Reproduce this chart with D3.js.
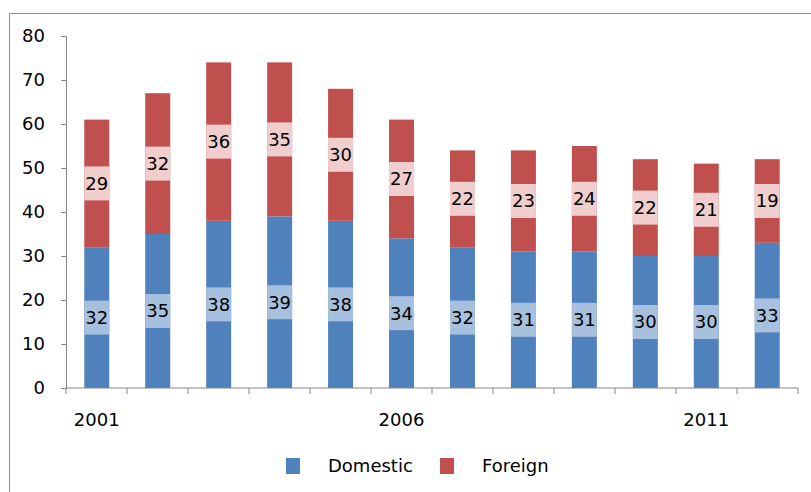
<!DOCTYPE html>
<html>
<head>
<meta charset="utf-8">
<script src="https://cdn.jsdelivr.net/npm/d3@7/dist/d3.min.js"></script>
<style>
  body { margin: 0; background: #fff; }
  text { font-family: "DejaVu Sans", sans-serif; fill: #000; }
</style>
</head>
<body>
<div id="chart"></div>
<script>
var years = ["2001","2002","2003","2004","2005","2006","2007","2008","2009","2010","2011","2012"];
var domestic = [32, 35, 38, 39, 38, 34, 32, 31, 31, 30, 30, 33];
var foreign  = [29, 32, 36, 35, 30, 27, 22, 23, 24, 22, 21, 19];
var yTicks = [0, 10, 20, 30, 40, 50, 60, 70, 80];
var xLabels = ["2001", "2006", "2011"];
var seriesNames = ["Domestic", "Foreign"];

var colors = {Domestic: "#4f81bd", Foreign: "#c0504d"};
var labelBg = {Domestic: "#a7c0de", Foreign: "#f0cecd"};

var W = 811, H = 492;
var margin = {top: 36, left: 66, right: 14, bottom: 104};

var svg = d3.select("#chart").append("svg")
    .attr("width", W)
    .attr("height", H);

// outer chart border (top + left only visible)
svg.append("path")
    .attr("d", "M9.5," + H + "V13.5H" + W)
    .attr("fill", "none")
    .attr("stroke", "#8c8c8c")
    .attr("stroke-width", 1);

var g = svg.append("g")
    .attr("transform", "translate(" + margin.left + "," + margin.top + ")");

var x = d3.scaleBand()
    .domain(years)
    .range([0, 732])
    .paddingInner(0.59)
    .paddingOuter(0.3);

var y = d3.scaleLinear()
    .domain([0, 80])
    .range([352, 0]);

var data = years.map(function(yr, i) {
  return {year: yr, Domestic: domestic[i], Foreign: foreign[i]};
});

var stack = d3.stack().keys(seriesNames);
var series = stack(data);

var serie = g.selectAll(".serie")
  .data(series)
  .enter().append("g")
    .attr("class", "serie");

function pts(d) { return d.map(function(p) { return {key: d.key, p: p}; }); }

serie.selectAll("rect.bar")
  .data(pts)
  .enter().append("rect")
    .attr("class", "bar")
    .attr("x", function(d) { return x(d.p.data.year); })
    .attr("width", x.bandwidth())
    .attr("y", function(d) { return y(d.p[1]); })
    .attr("height", function(d) { return y(d.p[0]) - y(d.p[1]); })
    .attr("fill", function(d) { return colors[d.key]; });

// label boxes
serie.selectAll("rect.lab")
  .data(pts)
  .enter().append("rect")
    .attr("class", "lab")
    .attr("x", function(d) { return x(d.p.data.year); })
    .attr("width", x.bandwidth())
    .attr("y", function(d) { return y((d.p[0] + d.p[1]) / 2) - 17; })
    .attr("height", 34)
    .attr("fill", function(d) { return labelBg[d.key]; });

serie.selectAll("text")
  .data(pts)
  .enter().append("text")
    .attr("x", function(d) { return x(d.p.data.year) + x.bandwidth() / 2; })
    .attr("y", function(d) { return y((d.p[0] + d.p[1]) / 2); })
    .attr("dy", "0.36em")
    .attr("text-anchor", "middle")
    .style("font-size", "18px")
    .text(function(d) { return d.p.data[d.key]; });

// y axis
var yAxis = g.append("g")
    .call(d3.axisLeft(y).tickValues(yTicks).tickSize(5).tickPadding(16));
yAxis.select(".domain").attr("stroke", "#868686");
yAxis.selectAll(".tick line").attr("stroke", "#868686");
yAxis.selectAll(".tick text").style("font-size", "18px").attr("fill", "#000");

// x axis: ticks at band boundaries
var xg = g.append("g")
    .attr("transform", "translate(0," + y(0) + ")");
xg.append("line")
    .attr("x1", 0).attr("x2", 732)
    .attr("stroke", "#868686");
var bounds = d3.range(years.length + 1).map(function(i) { return i * x.step() * 732 / (x.step() * years.length); });
xg.selectAll("line.tk")
  .data(bounds)
  .enter().append("line")
    .attr("class", "tk")
    .attr("x1", function(d) { return d; })
    .attr("x2", function(d) { return d; })
    .attr("y1", 0).attr("y2", 6)
    .attr("stroke", "#868686");
xg.selectAll("text")
  .data(xLabels)
  .enter().append("text")
    .attr("x", function(d) { return x(d) + x.bandwidth() / 2; })
    .attr("y", 38)
    .attr("text-anchor", "middle")
    .style("font-size", "18px")
    .text(function(d) { return d; });

// legend
var legend = svg.append("g");
var legX = [286, 440];
seriesNames.forEach(function(name, i) {
  legend.append("rect")
    .attr("x", legX[i]).attr("y", 458)
    .attr("width", 14).attr("height", 16)
    .attr("fill", colors[name]);
  legend.append("text")
    .attr("x", legX[i] + 42).attr("y", 472)
    .style("font-size", "18px")
    .text(name);
});
</script>
</body>
</html>
